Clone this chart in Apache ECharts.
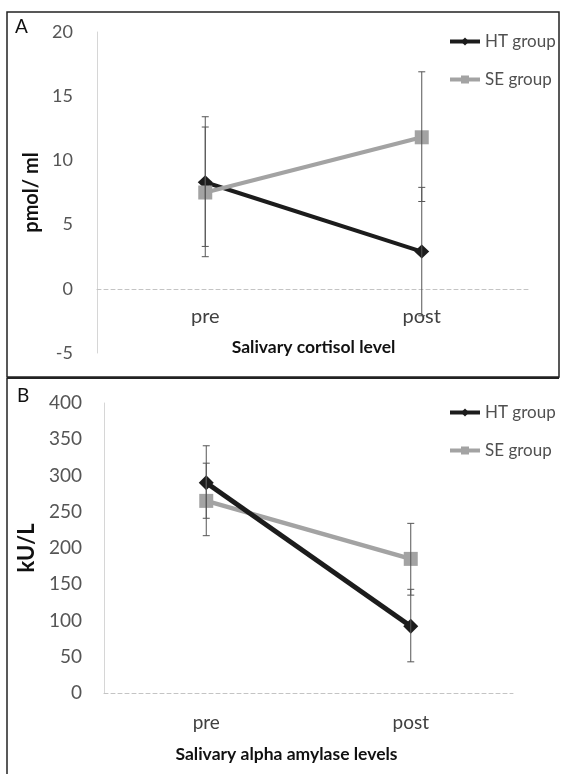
<!DOCTYPE html>
<html><head><meta charset="utf-8">
<script src="https://cdn.jsdelivr.net/npm/echarts@6/dist/echarts.min.js"></script>
<style>html,body{margin:0;padding:0;background:#fff}#c{width:561px;height:774px}</style>
</head><body><div id="c"></div>
<script>
// ---- data ----
const categories = ['pre', 'post'];
const seriesNames = ['HT group', 'SE group'];

// Panel A: salivary cortisol (pmol/ml)
const cortisolHT = [8.3, 2.9];
const cortisolHTLow = [3.3, -2.1];
const cortisolHTHigh = [13.4, 7.9];
const cortisolSE = [7.5, 11.8];
const cortisolSELow = [2.5, 6.8];
const cortisolSEHigh = [12.6, 16.9];
const cortisolTicks = { min: -5, max: 20, interval: 5 };

// Panel B: salivary alpha amylase (kU/L)
const amylaseHT = [290, 92];
const amylaseHTLow = [241, 43];
const amylaseHTHigh = [341, 143];
const amylaseSE = [265, 185];
const amylaseSELow = [217, 135];
const amylaseSEHigh = [317, 234];
const amylaseTicks = { min: 0, max: 400, interval: 50 };

// ---- chart ----
const FONT = 'Lato, "Open Sans", sans-serif';
const HT_COLOR = '#1c1c1c';
const SE_COLOR = '#a3a3a3';
const ERR_COLOR = '#555';

function errData(low, high) {
  return categories.map((c, i) => [i, low[i], high[i]]);
}
function errRender(params, api) {
  const x = api.value(0);
  const p1 = api.coord([x, api.value(1)]);
  const p2 = api.coord([x, api.value(2)]);
  const w = 3.5;
  const st = { stroke: ERR_COLOR, lineWidth: 1 };
  return {
    type: 'group',
    children: [
      { type: 'line', shape: { x1: p1[0], y1: p1[1], x2: p2[0], y2: p2[1] }, style: st },
      { type: 'line', shape: { x1: p1[0] - w, y1: p1[1], x2: p1[0] + w, y2: p1[1] }, style: st },
      { type: 'line', shape: { x1: p2[0] - w, y1: p2[1], x2: p2[0] + w, y2: p2[1] }, style: st }
    ]
  };
}
function errSeries(idx, low, high, z) {
  return {
    type: 'custom', xAxisIndex: idx, yAxisIndex: idx, z: z,
    renderItem: errRender, data: errData(low, high),
    encode: { x: 0, y: [1, 2] }, silent: true, animation: false
  };
}
function lineSeries(idx, name, data, color, symbol, symbolSize, z, lw) {
  return {
    type: 'line', name: name, xAxisIndex: idx, yAxisIndex: idx, z: z,
    data: data, symbol: symbol, symbolSize: symbolSize,
    lineStyle: { color: color, width: lw },
    itemStyle: { color: color },
    animation: false
  };
}
function xAxisCfg(idx, name, fs, margin, nameGap, pad) {
  return {
    type: 'category', gridIndex: idx, data: categories, boundaryGap: true,
    axisLine: { show: true, onZero: true, lineStyle: { color: '#c4c4c4', type: [4, 3], width: 1 } },
    axisTick: { show: false },
    axisLabel: { color: '#404040', fontSize: fs, fontFamily: FONT, margin: margin },
    name: name, nameLocation: 'middle', nameGap: nameGap,
    nameTextStyle: { color: '#111', fontSize: 17.5, fontWeight: 'bold', fontFamily: FONT, padding: pad }
  };
}
function yAxisCfg(idx, ticks, name, margin, nameGap, fs, nfs) {
  return {
    type: 'value', gridIndex: idx, min: ticks.min, max: ticks.max, interval: ticks.interval,
    axisLine: { show: true, lineStyle: { color: '#d6d6d6', width: 1 } },
    axisTick: { show: false },
    splitLine: { show: false },
    axisLabel: { color: '#555', fontSize: fs, fontFamily: FONT, margin: margin },
    name: name, nameLocation: 'middle', nameGap: nameGap,
    nameTextStyle: { color: '#111', fontSize: nfs, fontWeight: 'bold', fontFamily: FONT }
  };
}
function legendCfg(top) {
  return {
    data: seriesNames, orient: 'vertical', left: 443, top: top,
    itemWidth: 30, itemHeight: 10, itemGap: 21,
    lineStyle: { width: 4 },
    textStyle: { color: '#505050', fontSize: 17, fontFamily: FONT },
    selectedMode: false
  };
}

const chart = echarts.init(document.getElementById('c'), null, { renderer: 'canvas' });
chart.setOption({
  backgroundColor: '#fff',
  animation: false,
  grid: [
    { left: 97, right: 31, top: 32, height: 321 },
    { left: 104, right: 48, top: 403, height: 290 }
  ],
  xAxis: [
    xAxisCfg(0, 'Salivary cortisol level', 20, -46, -15, [0, 0, 0, 0]),
    xAxisCfg(1, 'Salivary alpha amylase levels', 19, 20, 52, [0, 44, 0, 0])
  ],
  yAxis: [
    yAxisCfg(0, cortisolTicks, 'pmol/ ml', 24, 49, 18, 20),
    yAxisCfg(1, amylaseTicks, 'kU/L', 22, 58, 19, 22)
  ],
  legend: [legendCfg(28), legendCfg(399)],
  graphic: [
    { type: 'rect', shape: { x: 7, y: 12, width: 552, height: 365 }, style: { fill: null, stroke: '#222', lineWidth: 1.5 }, silent: true },
    { type: 'line', shape: { x1: 7, y1: 378, x2: 559, y2: 378 }, style: { stroke: '#222', lineWidth: 2 }, silent: true },
    { type: 'line', shape: { x1: 7, y1: 378, x2: 7, y2: 774 }, style: { stroke: '#222', lineWidth: 1.5 }, silent: true },
    { type: 'text', left: 15, top: 17, style: { text: 'A', fill: '#111', font: '19px ' + FONT }, silent: true },
    { type: 'text', left: 17, top: 386, style: { text: 'B', fill: '#111', font: '19px ' + FONT }, silent: true }
  ],
  series: [
    lineSeries(0, 'HT group', cortisolHT, HT_COLOR, 'diamond', [15, 14], 3, 4),
    lineSeries(0, 'SE group', cortisolSE, SE_COLOR, 'rect', [14, 14], 4, 4),
    errSeries(0, cortisolHTLow, cortisolHTHigh, 6),
    errSeries(0, cortisolSELow, cortisolSEHigh, 6),
    lineSeries(1, 'HT group', amylaseHT, HT_COLOR, 'diamond', [15, 15], 4, 5),
    lineSeries(1, 'SE group', amylaseSE, SE_COLOR, 'rect', [14, 14], 3, 4.5),
    errSeries(1, amylaseHTLow, amylaseHTHigh, 6),
    errSeries(1, amylaseSELow, amylaseSEHigh, 6)
  ]
});
</script>
</body></html>
